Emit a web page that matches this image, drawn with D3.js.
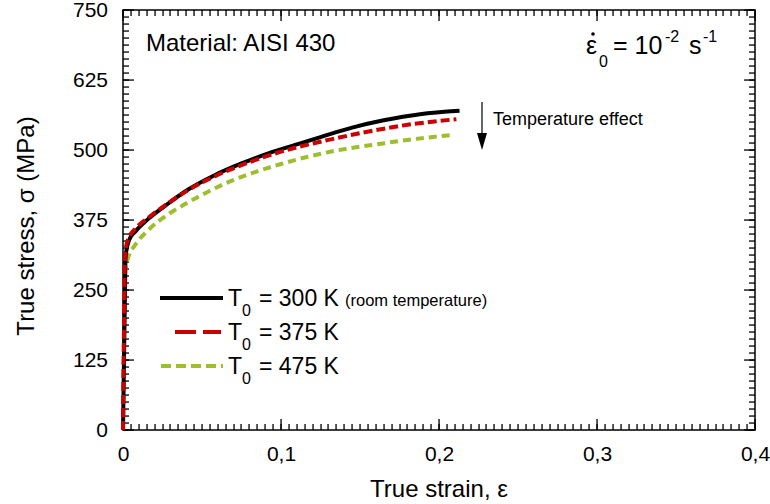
<!DOCTYPE html>
<html>
<head>
<meta charset="utf-8">
<script src="https://cdn.jsdelivr.net/npm/d3@7"></script>
<style>
  body { margin: 0; background: #fff; }
  svg text { font-family: "Liberation Sans", Arial, sans-serif; fill: #000; }
</style>
</head>
<body>
<div id="chart"></div>
<script>
// ---- data ----
var strain_300 = [0, 0.0015, 0.002, 0.004, 0.008, 0.016, 0.027, 0.041, 0.058, 0.075, 0.092, 0.109, 0.126, 0.145, 0.165, 0.188, 0.213];
var stress_300 = [0, 300, 318, 340, 355, 377, 401, 429, 455, 476, 494, 509, 524, 540, 553, 564, 570];

var strain_375 = [0, 0.0013, 0.002, 0.004, 0.008, 0.016, 0.027, 0.041, 0.058, 0.075, 0.092, 0.109, 0.13, 0.15, 0.18, 0.211];
var stress_375 = [0, 305, 328, 345, 360, 379, 402, 428, 453, 473, 490, 504, 518, 530, 545, 555];

var strain_475 = [0, 0.0015, 0.0034, 0.0076, 0.016, 0.029, 0.039, 0.05, 0.067, 0.084, 0.1, 0.117, 0.143, 0.16, 0.18, 0.209];
var stress_475 = [0, 285, 309, 330, 357, 386, 403, 420, 443, 461, 475, 488, 503, 510, 518, 527];

var x_ticks = [0, 0.1, 0.2, 0.3, 0.4];
var y_ticks = [0, 125, 250, 375, 500, 625, 750];
var legend_labels = ["= 300 K", "= 375 K", "= 475 K"];

var chart_width = 770, chart_height = 504;
var p_left = 123, p_right = 755, p_top = 10, p_bottom = 430;

var svg = d3.select("#chart").append("svg")
    .attr("width", chart_width)
    .attr("height", chart_height);

var x = d3.scaleLinear().domain([0, 0.4]).range([p_left, p_right]);
var y = d3.scaleLinear().domain([0, 750]).range([p_bottom, p_top]);

var x_minor = d3.range(0, 0.4001, 0.005);
var y_minor = d3.range(0, 750.1, 12.5);

function fmt(d) { return String(d).replace(".", ","); }

// tick labels through d3 axes (no tick marks, no domain)
var gx = svg.append("g").attr("transform", "translate(0," + p_bottom + ")")
    .call(d3.axisBottom(x).tickValues(x_ticks).tickSize(0).tickPadding(16).tickFormat(fmt));
var gy = svg.append("g").attr("transform", "translate(" + p_left + ",0)")
    .call(d3.axisLeft(y).tickValues(y_ticks).tickSize(0).tickPadding(15).tickFormat(fmt));
[gx, gy].forEach(function(g) {
    g.select(".domain").remove();
    g.attr("font-family", null).attr("font-size", 21);
});

// inward tick marks on all four sides, drawn as thin filled bars
var tk = svg.append("g").attr("fill", "#000");
function xTicks(vals, len) {
    tk.selectAll(null).data(vals).enter().append("rect")
        .attr("x", function(d) { return Math.round(x(d)) - 0.6; })
        .attr("y", p_bottom - len).attr("width", 1.3).attr("height", len);
    tk.selectAll(null).data(vals).enter().append("rect")
        .attr("x", function(d) { return Math.round(x(d)) - 0.6; })
        .attr("y", p_top).attr("width", 1.3).attr("height", len);
}
function yTicks(vals, len) {
    tk.selectAll(null).data(vals).enter().append("rect")
        .attr("y", function(d) { return Math.round(y(d)) - 0.6; })
        .attr("x", p_left).attr("height", 1.3).attr("width", len);
    tk.selectAll(null).data(vals).enter().append("rect")
        .attr("y", function(d) { return Math.round(y(d)) - 0.6; })
        .attr("x", p_right - len).attr("height", 1.3).attr("width", len);
}
xTicks(x_minor, 6);
xTicks(x_ticks, 11);
yTicks(y_minor, 6);
yTicks(y_ticks, 11);

svg.append("rect")
    .attr("x", p_left).attr("y", p_top)
    .attr("width", p_right - p_left).attr("height", p_bottom - p_top)
    .attr("fill", "none").attr("stroke", "#000").attr("stroke-width", 1.5);

// ---- curves ----
var line = d3.line()
    .x(function(d) { return x(d[0]); })
    .y(function(d) { return y(d[1]); })
    .curve(d3.curveMonotoneX);

var series = [
    { xs: strain_475, ys: stress_475, color: "#9dbf2f", dash: "8,5" },
    { xs: strain_300, ys: stress_300, color: "#000000", dash: null },
    { xs: strain_375, ys: stress_375, color: "#cc0000", dash: "9,4" }
];

svg.selectAll("path.curve")
    .data(series)
    .enter().append("path")
    .attr("class", "curve")
    .attr("d", function(s) { return line(d3.zip(s.xs, s.ys)); })
    .attr("fill", "none")
    .attr("stroke", function(s) { return s.color; })
    .attr("stroke-width", 4)
    .attr("stroke-dasharray", function(s) { return s.dash; });

// ---- legend ----
var leg = [
    { color: "#000000", dash: null, x1: 160, x2: 223 },
    { color: "#cc0000", dash: "21,7", x1: 175, x2: 221 },
    { color: "#9dbf2f", dash: "10,5", x1: 161, x2: 223 }
];
leg.forEach(function(l, i) {
    var by = 306 + i * 34;
    svg.append("line")
        .attr("x1", l.x1).attr("x2", l.x2)
        .attr("y1", by - 8).attr("y2", by - 8)
        .attr("stroke", l.color).attr("stroke-width", 4)
        .attr("stroke-dasharray", l.dash);
    svg.append("text").attr("x", 228).attr("y", by).attr("font-size", 23).text("T");
    svg.append("text").attr("x", 242).attr("y", by + 10).attr("font-size", 16).text("0");
    svg.append("text").attr("x", 259).attr("y", by).attr("font-size", 23).text(legend_labels[i]);
});
svg.append("text").attr("x", 345).attr("y", 306).attr("font-size", 16.5).text("(room temperature)");

// ---- annotations ----
svg.append("text").attr("x", 146).attr("y", 51).attr("font-size", 24).text("Material: AISI 430");

svg.append("line")
    .attr("x1", 482).attr("x2", 482).attr("y1", 102).attr("y2", 136)
    .attr("stroke", "#000").attr("stroke-width", 1.2);
svg.append("path")
    .attr("d", "M477,133 L487,133 L482,150 Z")
    .attr("fill", "#000");
svg.append("text").attr("x", 493).attr("y", 125).attr("font-size", 18).text("Temperature effect");

// strain rate label
svg.append("text").attr("x", 586).attr("y", 54).attr("font-size", 25).text("ε");
svg.append("circle").attr("cx", 593).attr("cy", 34).attr("r", 1.8).attr("fill", "#000");
svg.append("text").attr("x", 599).attr("y", 67).attr("font-size", 16).text("0");
svg.append("text").attr("x", 613).attr("y", 54).attr("font-size", 25).text("= 10");
svg.append("text").attr("x", 665).attr("y", 42).attr("font-size", 16).text("-2");
svg.append("text").attr("x", 689).attr("y", 54).attr("font-size", 25).text("s");
svg.append("text").attr("x", 703).attr("y", 42).attr("font-size", 16).text("-1");

// axis titles
svg.append("text")
    .attr("x", (p_left + p_right) / 2).attr("y", 497)
    .attr("text-anchor", "middle").attr("font-size", 24)
    .text("True strain, ε");
svg.append("text")
    .attr("transform", "translate(34,226) rotate(-90)")
    .attr("text-anchor", "middle").attr("font-size", 24)
    .text("True stress, σ (MPa)");
</script>
</body>
</html>
